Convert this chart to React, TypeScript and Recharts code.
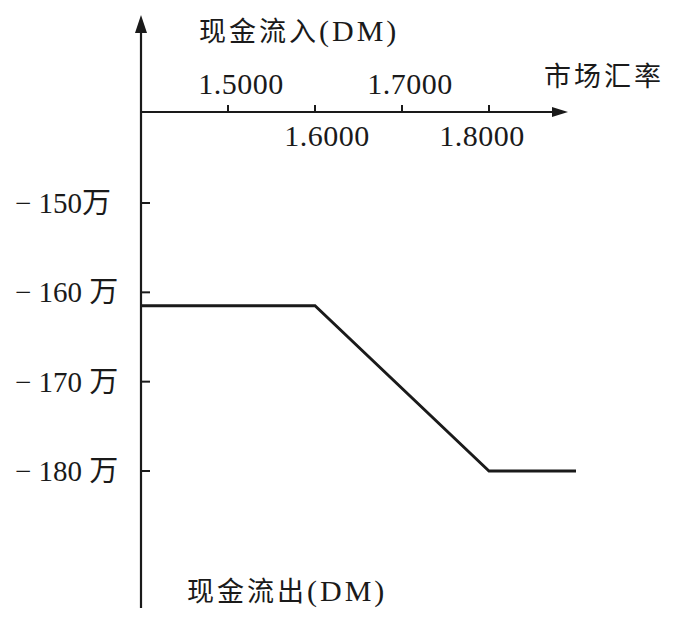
import { LineChart, Line, XAxis, YAxis } from "recharts";

// market exchange rate (DM) vs cash flow (万 DM)
const rates = [1.4, 1.6, 1.8, 1.9];
const cashFlow = [-161.5, -161.5, -180, -180];

const xTicks = [1.5, 1.6, 1.7, 1.8];
const xTickLabels = ["1.5000", "1.6000", "1.7000", "1.8000"];
const yTicks = [-180, -170, -160, -150];
const yTickLabels = ["− 180 万", "− 170 万", "− 160 万", "− 150万"];

const data = rates.map((r, i) => ({ rate: r, flow: cashFlow[i] }));

const INK = "#1a1a1a";
const FONT = "'Liberation Serif', 'Noto Sans CJK SC', serif";
const CJK = "'Noto Sans CJK SC', 'Liberation Serif', sans-serif";

// labels above the axis for 1.5/1.7, below for 1.6/1.8
const X_LABEL_DX = [13, 12, 8, -7];

function XTick(props: any) {
  const { x, y, payload, index } = props;
  const above = index % 2 === 0;
  const i = xTicks.indexOf(payload.value);
  return (
    <g>
      <line x1={x} y1={y} x2={x} y2={y - 7} stroke={INK} strokeWidth={2} />
      <text
        x={x + X_LABEL_DX[i]}
        y={above ? y - 18 : y + 34}
        textAnchor="middle"
        fontFamily={FONT}
        fontSize={30}
        letterSpacing={0.5}
        fill={INK}
      >
        {xTickLabels[i]}
      </text>
    </g>
  );
}

function YTick(props: any) {
  const { x, y, payload } = props;
  const i = yTicks.indexOf(payload.value);
  return (
    <g>
      <line x1={x} y1={y} x2={x + 9} y2={y} stroke={INK} strokeWidth={2} />
      <text
        x={x - 126}
        y={y}
        dy={10}
        textAnchor="start"
        fontFamily={FONT}
        fontSize={29}
        fill={INK}
      >
        {yTickLabels[i]}
      </text>
    </g>
  );
}

export default function App() {
  return (
    <div
      style={{
        position: "absolute",
        left: 0,
        top: 0,
        width: 700,
        height: 630,
        background: "#fff",
      }}
    >
      <LineChart
        width={700}
        height={630}
        data={data}
        margin={{ top: 0, right: 124, bottom: 22, left: 0 }}
      >
        <XAxis
          dataKey="rate"
          type="number"
          orientation="top"
          domain={[1.4, 1.9]}
          ticks={xTicks}
          interval={0}
          height={112}
          axisLine={false}
          tickLine={false}
          tickSize={0}
          tickMargin={0}
          tick={<XTick />}
        />
        <YAxis
          type="number"
          domain={[-195.34, -139.81]}
          ticks={yTicks}
          interval={0}
          width={141}
          allowDataOverflow
          axisLine={{ stroke: INK, strokeWidth: 2.2 }}
          tickLine={false}
          tickSize={0}
          tickMargin={0}
          tick={<YTick />}
        />
        <Line
          dataKey="flow"
          type="linear"
          stroke={INK}
          strokeWidth={2.8}
          dot={false}
          isAnimationActive={false}
        />
      </LineChart>

      {/* arrows of the two axes and the axis titles */}
      <svg
        width={700}
        height={630}
        style={{ position: "absolute", left: 0, top: 0, pointerEvents: "none" }}
      >
        <line x1={141} y1={112} x2={141} y2={30} stroke={INK} strokeWidth={2.2} />
        <polygon points="141,15 135,33 147,33" fill={INK} />
        <line x1={141} y1={112} x2={556} y2={112} stroke={INK} strokeWidth={2.2} />
        <polygon points="568,112 552,107 552,117" fill={INK} />
        <text x={199} y={41} fontFamily={CJK} fontSize={27} letterSpacing={3} fill={INK}>
          现金流入<tspan fontFamily={FONT} fontSize={30}>(DM)</tspan>
        </text>
        <text x={544} y={86} fontFamily={CJK} fontSize={27} letterSpacing={3} fill={INK}>
          市场汇率
        </text>
        <text x={187} y={601} fontFamily={CJK} fontSize={27} letterSpacing={3} fill={INK}>
          现金流出<tspan fontFamily={FONT} fontSize={30}>(DM)</tspan>
        </text>
      </svg>
    </div>
  );
}
